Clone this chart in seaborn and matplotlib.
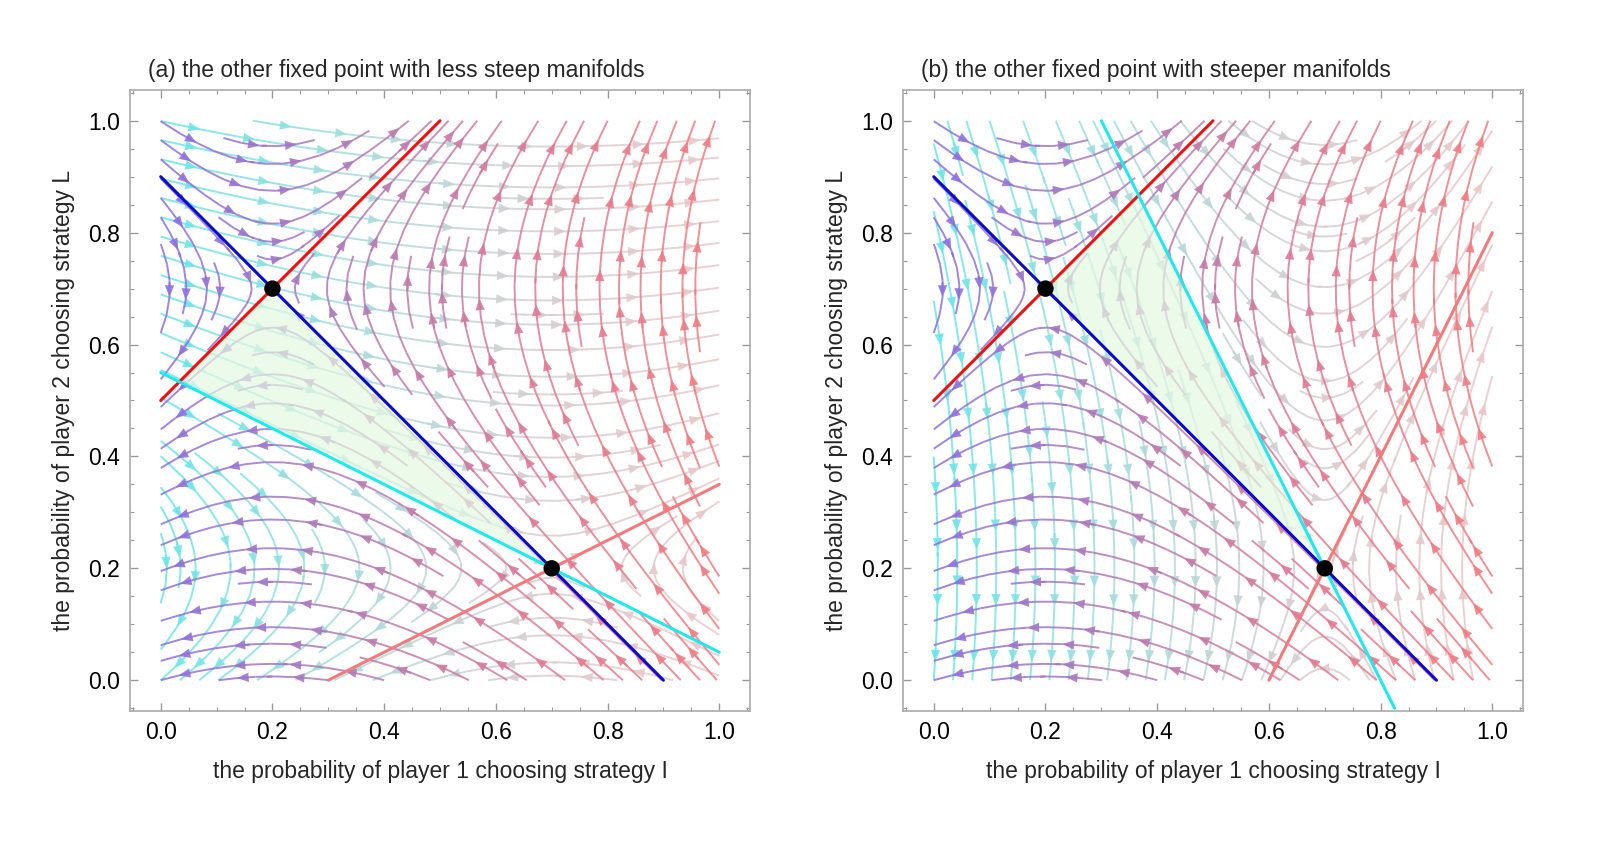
import numpy as np
import matplotlib
matplotlib.use('Agg')
import matplotlib.pyplot as plt
import seaborn as sns
from matplotlib.colors import LinearSegmentedColormap
from matplotlib.ticker import MultipleLocator

# fixed points (both panels)
fixed_x = [0.2, 0.7]
fixed_y = [0.7, 0.2]

# manifolds through (0.2, 0.7): blue = stable, red = unstable
blue_x = [0.0, 0.9]
blue_y = [0.9, 0.0]
red_x = [0.0, 0.5]
red_y = [0.5, 1.0]

# manifolds through (0.7, 0.2), panel (a) and (b)
cyan_x = {'a': [0.0, 1.0], 'b': [0.3, 0.825]}
cyan_y = {'a': [0.55, 0.05], 'b': [1.0, -0.05]}
pink_x = {'a': [0.3, 1.0], 'b': [0.6, 1.0]}
pink_y = {'a': [0.0, 0.35], 'b': [0.0, 0.8]}

# shaded region between the manifolds
shade_x = {'a': [0.0333, 0.2, 0.7], 'b': [0.2, 0.3667, 0.7]}
shade_y = {'a': [0.5333, 0.7, 0.2], 'b': [0.7, 0.8667, 0.2]}

titles = {'a': '(a) the other fixed point with less steep manifolds',
          'b': '(b) the other fixed point with steeper manifolds'}
xlabel = 'the probability of player 1 choosing strategy I'
ylabel = 'the probability of player 2 choosing strategy L'


def direction(xs, ys):
    return np.array([xs[1] - xs[0], ys[1] - ys[0]])


def saddle(X, Y, fx, fy, s_dir, u_dir):
    # linear saddle: decays along s_dir, grows along u_dir
    inv = np.linalg.inv(np.array([s_dir, u_dir]).T)
    dx, dy = X - fx, Y - fy
    a = inv[0, 0] * dx + inv[0, 1] * dy
    b = inv[1, 0] * dx + inv[1, 1] * dy
    return -a * s_dir[0] + b * u_dir[0], -a * s_dir[1] + b * u_dir[1]


def add_arrows(ax, sp, cmap, norm, spacing=0.11, alpha=0.9, z=3):
    # several arrow heads along each streamline (mathematica style)
    segs = sp.lines.get_segments()
    vals = np.asarray(sp.lines.get_array())
    groups, cur = [], [0]
    for i in range(1, len(segs)):
        if np.allclose(segs[i][0], segs[i - 1][-1]):
            cur.append(i)
        else:
            groups.append(cur)
            cur = [i]
    groups.append(cur)
    for idx in groups:
        pts = np.array([segs[idx[0]][0]] + [segs[i][-1] for i in idx])
        d = np.hypot(*np.diff(pts, axis=0).T)
        cum = np.concatenate([[0], np.cumsum(d)])
        L = cum[-1]
        if L < spacing * 0.5:
            continue
        n = max(1, int(round(L / spacing)))
        for o in (np.arange(n) + 0.5) * L / n:
            j = int(np.clip(np.searchsorted(cum, o), 1, len(pts) - 1))
            c = cmap(norm(vals[idx[j - 1]]))
            ax.annotate('', xy=pts[j], xytext=pts[j - 1],
                        arrowprops=dict(arrowstyle='-|>,head_length=0.6,head_width=0.24',
                                        color=c, alpha=alpha, lw=0,
                                        shrinkA=0, shrinkB=0, mutation_scale=14),
                        zorder=z)


sns.set_style('ticks')
plt.rcParams['font.family'] = ['Liberation Sans', 'DejaVu Sans']

cmap_a = LinearSegmentedColormap.from_list('fa', ['#66e6ea', '#a8dcdc', '#d8cdd0', '#ecc6c8'])
cmap_b = LinearSegmentedColormap.from_list('fb', ['#8a6fe2', '#b07ab8', '#e07a94', '#f27c80'])

g = np.linspace(0, 1, 121)
X, Y = np.meshgrid(g, g)
norm = plt.Normalize(0, 1)

fig = plt.figure(figsize=(16, 8.64), dpi=100)
axes = {'a': fig.add_axes([0.08125, 0.1771, 0.3875, 0.71875]),
        'b': fig.add_axes([0.5644, 0.1771, 0.3875, 0.71875])}

for key, ax in axes.items():
    Ua, Va = saddle(X, Y, fixed_x[1], fixed_y[1],
                    direction(cyan_x[key], cyan_y[key]),
                    direction(pink_x[key], pink_y[key]))
    Ub, Vb = saddle(X, Y, fixed_x[0], fixed_y[0],
                    direction(blue_x, blue_y), direction(red_x, red_y))

    s1 = ax.streamplot(g, g, Ua, Va, color=X, cmap=cmap_a, norm=norm,
                       density=1.0, linewidth=1.4, arrowstyle='-', zorder=2)
    s2 = ax.streamplot(g, g, Ub, Vb, color=X, cmap=cmap_b, norm=norm,
                       density=1.0, linewidth=1.4, arrowstyle='-', zorder=3)
    s1.lines.set_alpha(0.85)
    s2.lines.set_alpha(0.85)
    add_arrows(ax, s1, cmap_a, norm, z=2)
    add_arrows(ax, s2, cmap_b, norm, z=3)

    ax.fill(shade_x[key], shade_y[key], color='#e4f8e2', alpha=0.7,
            lw=0, zorder=4)

    ax.plot(blue_x, blue_y, color='#0a0acc', lw=2.2, zorder=5)
    ax.plot(red_x, red_y, color='#f01010', lw=2.2, zorder=5)
    ax.plot(pink_x[key], pink_y[key], color='#f27a7a', lw=2.2, zorder=5)
    ax.plot(cyan_x[key], cyan_y[key], color='#1ee8f0', lw=2.2, zorder=6)
    sns.scatterplot(x=fixed_x, y=fixed_y, color='black', s=140,
                    edgecolor='none', zorder=7, ax=ax)

    ax.set_xlim(-0.055, 1.055)
    ax.set_ylim(-0.055, 1.055)
    ax.xaxis.set_major_locator(MultipleLocator(0.2))
    ax.yaxis.set_major_locator(MultipleLocator(0.2))
    ax.xaxis.set_minor_locator(MultipleLocator(0.05))
    ax.yaxis.set_minor_locator(MultipleLocator(0.05))
    ax.xaxis.set_major_formatter(lambda v, p: f'{v:.1f}')
    ax.yaxis.set_major_formatter(lambda v, p: f'{v:.1f}')
    ax.tick_params(which='both', direction='in', top=True, right=True,
                   color='#999999', labelsize=16.5, labelcolor='black')
    ax.tick_params(which='major', length=6, width=1, pad=7)
    ax.tick_params(which='minor', length=3, width=0.8)
    for sp in ax.spines.values():
        sp.set_color('#aaaaaa')
        sp.set_linewidth(1.2)
    ax.set_xlabel(xlabel, fontsize=16.5, labelpad=12)
    ax.set_ylabel(ylabel, fontsize=16.5, labelpad=10)
    ax.text(0.029, 1.021, titles[key], transform=ax.transAxes,
            fontsize=16.5, ha='left', va='baseline')

fig.savefig('out.png', dpi=100)
